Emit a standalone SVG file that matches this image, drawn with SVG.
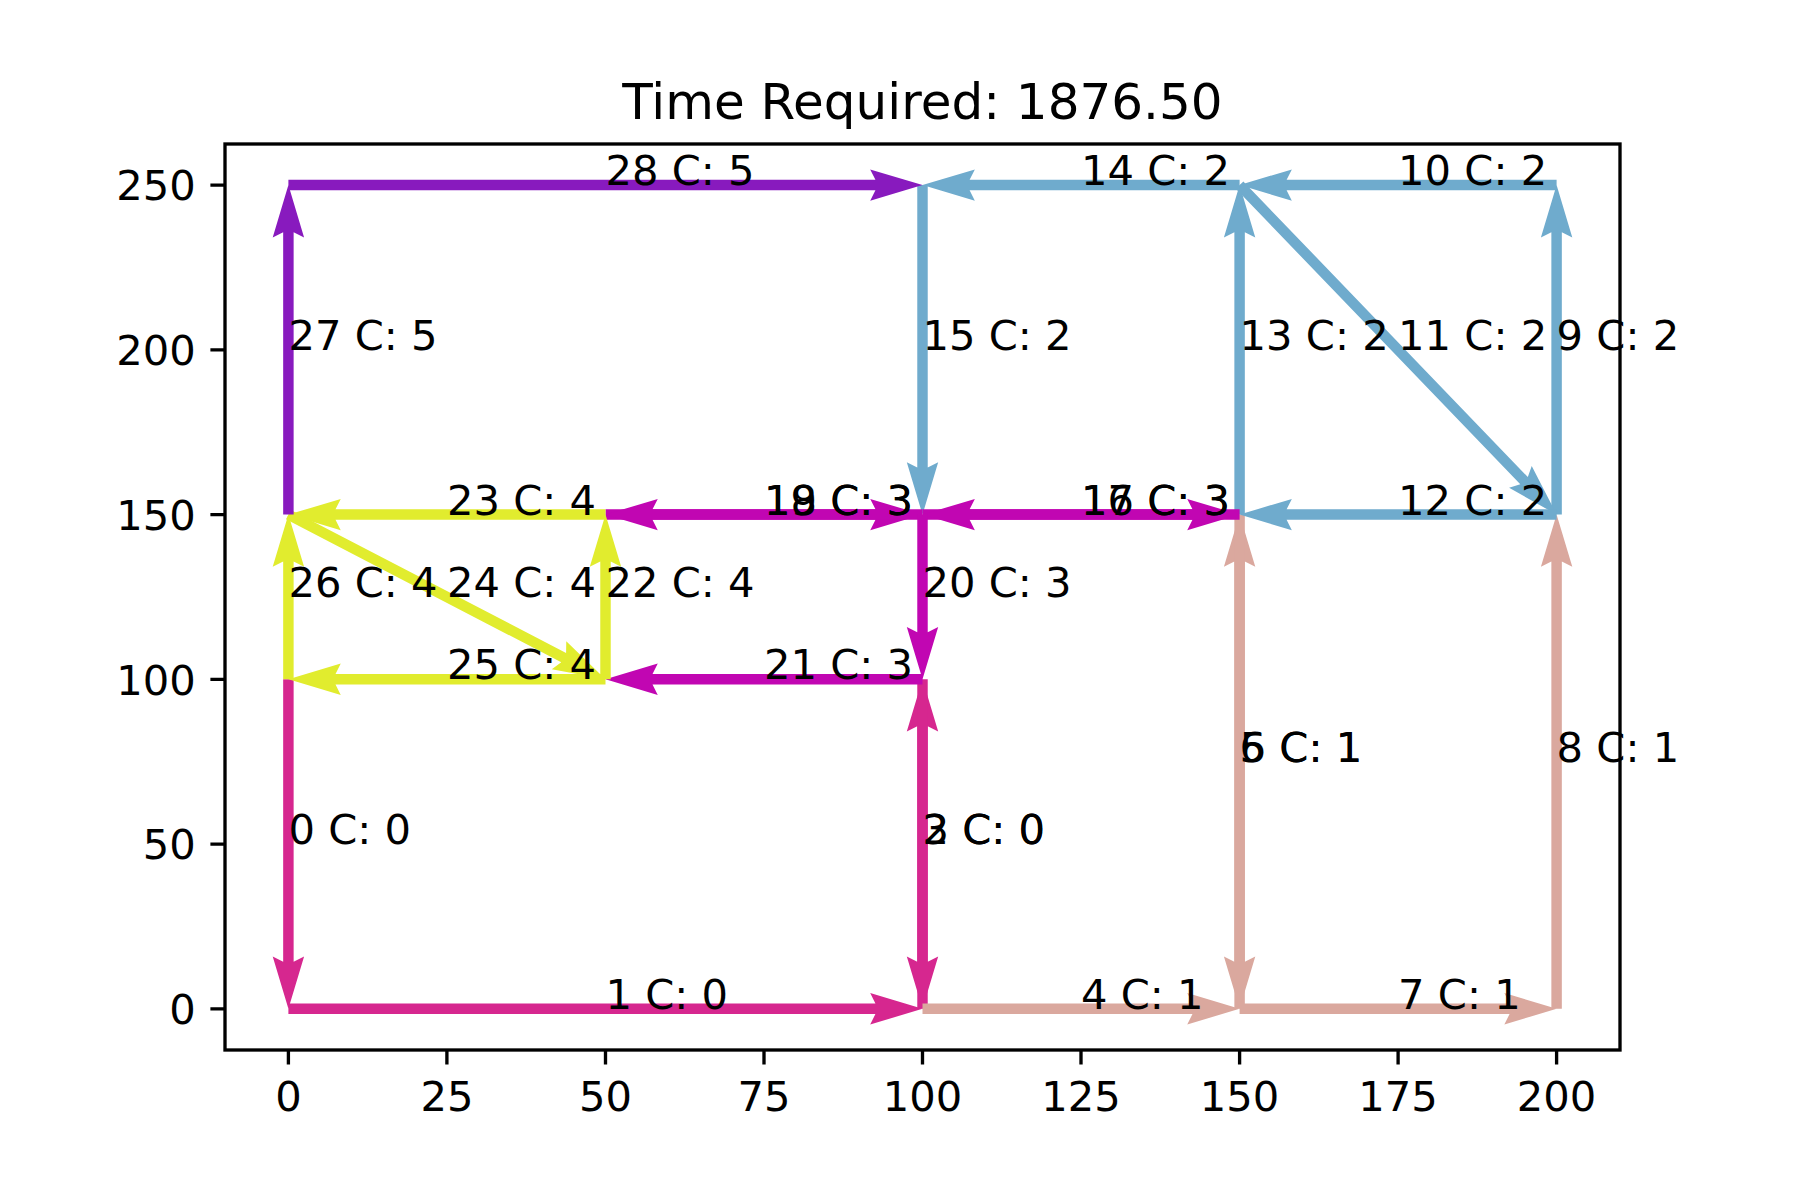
<svg xmlns="http://www.w3.org/2000/svg" xmlns:xlink="http://www.w3.org/1999/xlink" width="1800" height="1200" viewBox="0 0 1800 1200">
<style>
text{font-family:"DejaVu Sans","Liberation Sans",sans-serif;fill:#000}
.lbl{font-size:41.67px}
.tick{font-size:41.67px}
.title{font-size:50px}
.pink{fill:#D6278F}
.salmon{fill:#DAA89E}
.blue{fill:#6FABCD}
.mag{fill:#C106B2}
.yel{fill:#E1EC2E}
.pur{fill:#881ABE}
.ax{stroke:#000;stroke-width:3.33;fill:none}
</style>
<defs>
<path id="L164" d="M0,-5.23L117.68,-5.23L112.45,-15.69L164.75,0L112.45,15.69L117.68,5.23L0,5.23Z"/>
<path id="L317" d="M0,-5.23L269.98,-5.23L264.75,-15.69L317.05,0L264.75,15.69L269.98,5.23L0,5.23Z"/>
<path id="L329" d="M0,-5.23L282.43,-5.23L277.2,-15.69L329.5,0L277.2,15.69L282.43,5.23L0,5.23Z"/>
<path id="L357" d="M0,-5.23L310.23,-5.23L305,-15.69L357.3,0L305,15.69L310.23,5.23L0,5.23Z"/>
<path id="L457" d="M0,-5.23L410.23,-5.23L405,-15.69L457.3,0L405,15.69L410.23,5.23L0,5.23Z"/>
<path id="L494" d="M0,-5.23L447.18,-5.23L441.95,-15.69L494.25,0L441.95,15.69L447.18,5.23L0,5.23Z"/>
<path id="L634" d="M0,-5.23L587.03,-5.23L581.8,-15.69L634.1,0L581.8,15.69L587.03,5.23L0,5.23Z"/>
</defs>
<rect width="1800" height="1200" fill="#fff"/>
<g id="connectors">
<use href="#L329" class="pink" transform="translate(288.4,679.3) rotate(90)"/>
<use href="#L634" class="pink" transform="translate(288.4,1008.8)"/>
<use href="#L329" class="pink" transform="translate(922.5,1008.8) rotate(-90)"/>
<use href="#L329" class="pink" transform="translate(922.5,679.3) rotate(90)"/>
<use href="#L317" class="salmon" transform="translate(922.5,1008.8)"/>
<use href="#L494" class="salmon" transform="translate(1239.6,1008.8) rotate(-90)"/>
<use href="#L494" class="salmon" transform="translate(1239.6,514.6) rotate(90)"/>
<use href="#L317" class="salmon" transform="translate(1239.6,1008.8)"/>
<use href="#L494" class="salmon" transform="translate(1556.6,1008.8) rotate(-90)"/>
<use href="#L329" class="blue" transform="translate(1556.6,514.6) rotate(-90)"/>
<use href="#L317" class="blue" transform="translate(1556.6,185.1) rotate(180)"/>
<use href="#L457" class="blue" transform="translate(1239.6,185.1) rotate(46.10)"/>
<use href="#L317" class="blue" transform="translate(1556.6,514.6) rotate(180)"/>
<use href="#L329" class="blue" transform="translate(1239.6,514.6) rotate(-90)"/>
<use href="#L317" class="blue" transform="translate(1239.6,185.1) rotate(180)"/>
<use href="#L329" class="blue" transform="translate(922.5,185.1) rotate(90)"/>
<use href="#L317" class="mag" transform="translate(922.5,514.6)"/>
<use href="#L317" class="mag" transform="translate(1239.6,514.6) rotate(180)"/>
<use href="#L317" class="mag" transform="translate(605.5,514.6)"/>
<use href="#L317" class="mag" transform="translate(922.5,514.6) rotate(180)"/>
<use href="#L164" class="mag" transform="translate(922.5,514.6) rotate(90)"/>
<use href="#L317" class="mag" transform="translate(922.5,679.3) rotate(180)"/>
<use href="#L164" class="yel" transform="translate(605.5,679.3) rotate(-90)"/>
<use href="#L317" class="yel" transform="translate(605.5,514.6) rotate(180)"/>
<use href="#L357" class="yel" transform="translate(288.4,514.6) rotate(27.46)"/>
<use href="#L317" class="yel" transform="translate(605.5,679.3) rotate(180)"/>
<use href="#L164" class="yel" transform="translate(288.4,679.3) rotate(-90)"/>
<use href="#L329" class="pur" transform="translate(288.4,514.6) rotate(-90)"/>
<use href="#L634" class="pur" transform="translate(288.4,185.1)"/>
</g>
<g id="axes">
<rect x="225" y="144" width="1395" height="906" class="ax"/>
<path class="ax" d="M288.4,1050v14.6M446.9,1050v14.6M605.5,1050v14.6M764,1050v14.6M922.5,1050v14.6M1081,1050v14.6M1239.6,1050v14.6M1398.1,1050v14.6M1556.6,1050v14.6"/>
<path class="ax" d="M225,1008.8h-14.6M225,844.1h-14.6M225,679.3h-14.6M225,514.6h-14.6M225,349.8h-14.6M225,185.1h-14.6"/>
<g class="tick" text-anchor="middle">
<text x="288.4" y="1111">0</text>
<text x="446.9" y="1111">25</text>
<text x="605.5" y="1111">50</text>
<text x="764" y="1111">75</text>
<text x="922.5" y="1111">100</text>
<text x="1081" y="1111">125</text>
<text x="1239.6" y="1111">150</text>
<text x="1398.1" y="1111">175</text>
<text x="1556.6" y="1111">200</text>
</g>
<g class="tick" text-anchor="end">
<text x="195.8" y="1024">0</text>
<text x="195.8" y="859.3">50</text>
<text x="195.8" y="694.5">100</text>
<text x="195.8" y="529.8">150</text>
<text x="195.8" y="365">200</text>
<text x="195.8" y="200.3">250</text>
</g>
<text class="title" x="922.5" y="119" text-anchor="middle">Time Required: 1876.50</text>
</g>
<g id="labels" class="lbl">
<text id="e0" x="288.4" y="844.1">0 C: 0</text>
<text id="e1" x="605.5" y="1008.8">1 C: 0</text>
<text id="e2" x="922.5" y="844.1">2 C: 0</text>
<text id="e3" x="922.5" y="844.1">3 C: 0</text>
<text id="e4" x="1081" y="1008.8">4 C: 1</text>
<text id="e5" x="1239.6" y="761.7">5 C: 1</text>
<text id="e6" x="1239.6" y="761.7">6 C: 1</text>
<text id="e7" x="1398.1" y="1008.8">7 C: 1</text>
<text id="e8" x="1556.6" y="761.7">8 C: 1</text>
<text id="e9" x="1556.6" y="349.8">9 C: 2</text>
<text id="e10" x="1398.1" y="185.1">10 C: 2</text>
<text id="e11" x="1398.1" y="349.8">11 C: 2</text>
<text id="e12" x="1398.1" y="514.6">12 C: 2</text>
<text id="e13" x="1239.6" y="349.8">13 C: 2</text>
<text id="e14" x="1081" y="185.1">14 C: 2</text>
<text id="e15" x="922.5" y="349.8">15 C: 2</text>
<text id="e16" x="1081" y="514.6">16 C: 3</text>
<text id="e17" x="1081" y="514.6">17 C: 3</text>
<text id="e18" x="764" y="514.6">18 C: 3</text>
<text id="e19" x="764" y="514.6">19 C: 3</text>
<text id="e20" x="922.5" y="597">20 C: 3</text>
<text id="e21" x="764" y="679.3">21 C: 3</text>
<text id="e22" x="605.5" y="597">22 C: 4</text>
<text id="e23" x="446.9" y="514.6">23 C: 4</text>
<text id="e24" x="446.9" y="597">24 C: 4</text>
<text id="e25" x="446.9" y="679.3">25 C: 4</text>
<text id="e26" x="288.4" y="597">26 C: 4</text>
<text id="e27" x="288.4" y="349.8">27 C: 5</text>
<text id="e28" x="605.5" y="185.1">28 C: 5</text>
</g>
</svg>
